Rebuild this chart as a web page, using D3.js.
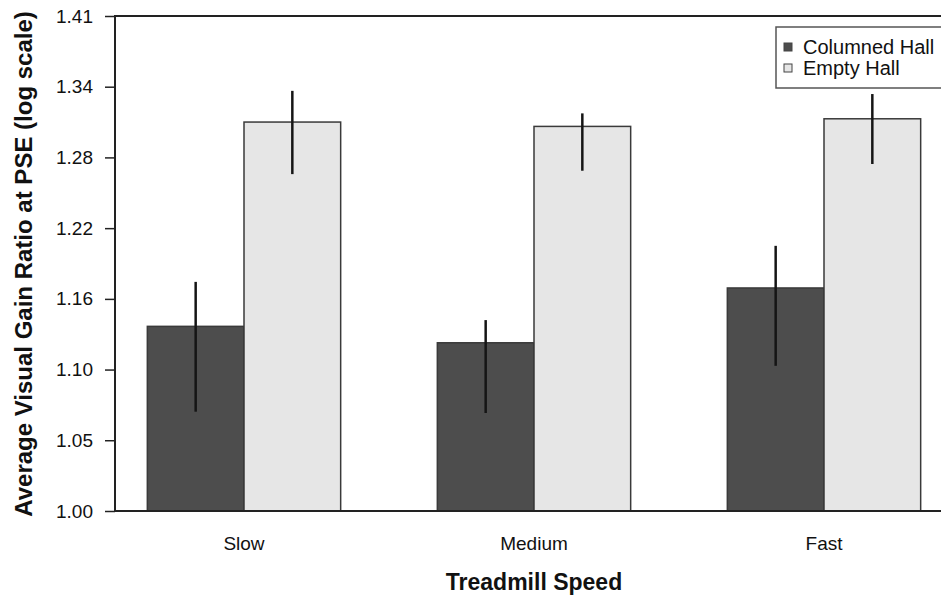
<!DOCTYPE html>
<html lang="en">
<head>
<meta charset="UTF-8">
<title>Treadmill Speed</title>
<script src="https://d3js.org/d3.v7.min.js"></script>
<style>
    body {
        margin: 0;
        background: #ffffff;
    }
    svg {
        display: block;
        font-family: 'Liberation Sans', Arial, Helvetica, sans-serif;
    }
    .tick text {
        font-size: 19px;
        fill: #111;
    }
    .axis-title {
        font-size: 23px;
        font-weight: bold;
        fill: #111;
    }
    .y-title {
        font-size: 24px;
    }
    .legend-label {
        font-size: 20px;
        fill: #111;
    }
</style>
</head>
<body>
<svg id="chart" width="941" height="598"></svg>
<script>
// data
const categories = ["Slow", "Medium", "Fast"];
const series = ["Columned Hall", "Empty Hall"];
const columnedMean = [1.138, 1.125, 1.169];
const columnedLow = [1.072, 1.071, 1.107];
const columnedHigh = [1.174, 1.143, 1.204];
const emptyMean = [1.313, 1.309, 1.316];
const emptyLow = [1.266, 1.269, 1.275];
const emptyHigh = [1.342, 1.321, 1.339];
const tickValues = [1, 1.0508, 1.1041, 1.1601, 1.2190, 1.2809, 1.3459, 1.4142];
const tickLabels = ["1.00", "1.05", "1.10", "1.16", "1.22", "1.28", "1.34", "1.41"];

const fills = ["#4d4d4d", "#e6e6e6"];

const svg = d3.select("#chart");

const plotLeft = 115, plotTop = 16, plotBottom = 511;

const y = d3.scaleLog()
    .domain([1, 1.4142])
    .range([plotBottom, plotTop]);

const x = d3.scaleBand()
    .domain(categories)
    .range([99, 969])
    .paddingInner(1 / 3)
    .paddingOuter(1 / 6);

const xs = d3.scaleBand()
    .domain(series)
    .range([0, x.bandwidth()]);

// build rows
const rows = [];
categories.forEach((c, i) => {
    rows.push({ cat: c, ser: series[0], v: columnedMean[i], lo: columnedLow[i], hi: columnedHigh[i] });
    rows.push({ cat: c, ser: series[1], v: emptyMean[i], lo: emptyLow[i], hi: emptyHigh[i] });
});

// bars
svg.append("g")
    .selectAll("rect")
    .data(rows)
    .enter()
    .append("rect")
    .attr("x", d => x(d.cat) + xs(d.ser))
    .attr("y", d => y(d.v))
    .attr("width", xs.bandwidth())
    .attr("height", d => y(1) - y(d.v))
    .attr("fill", d => fills[series.indexOf(d.ser)])
    .attr("stroke", "#3a3a3a")
    .attr("stroke-width", 1.5);

// error bars
svg.append("g")
    .selectAll("line")
    .data(rows)
    .enter()
    .append("line")
    .attr("x1", d => x(d.cat) + xs(d.ser) + xs.bandwidth() / 2)
    .attr("x2", d => x(d.cat) + xs(d.ser) + xs.bandwidth() / 2)
    .attr("y1", d => y(d.lo))
    .attr("y2", d => y(d.hi))
    .attr("stroke", "#151515")
    .attr("stroke-width", 2.5);

// plot box (right edge runs off the picture)
svg.append("rect")
    .attr("x", plotLeft)
    .attr("y", plotTop)
    .attr("width", 900)
    .attr("height", plotBottom - plotTop)
    .attr("fill", "none")
    .attr("stroke", "#222")
    .attr("stroke-width", 2);

// y axis
const yAxis = d3.axisLeft(y)
    .tickValues(tickValues)
    .tickFormat((d, i) => tickLabels[i])
    .tickSize(10)
    .tickPadding(12);

const gy = svg.append("g")
    .attr("transform", `translate(${plotLeft},0)`)
    .call(yAxis);
gy.select(".domain").remove();
gy.selectAll(".tick line").attr("stroke", "#222").attr("stroke-width", 1.5);

// x category labels
const xAxis = d3.axisBottom(x).tickSize(0).tickPadding(26);
const gx = svg.append("g")
    .attr("transform", `translate(0,${plotBottom})`)
    .call(xAxis);
gx.select(".domain").remove();

// axis titles
svg.append("text")
    .attr("class", "axis-title")
    .attr("x", x("Medium") + x.bandwidth() / 2)
    .attr("y", 590)
    .attr("text-anchor", "middle")
    .text("Treadmill Speed");

svg.append("text")
    .attr("class", "axis-title y-title")
    .attr("transform", "translate(32,264) rotate(-90)")
    .attr("text-anchor", "middle")
    .text("Average Visual Gain Ratio at PSE (log scale)");

// legend
const legend = svg.append("g");
legend.append("rect")
    .attr("x", 776)
    .attr("y", 27)
    .attr("width", 200)
    .attr("height", 61)
    .attr("fill", "#fff")
    .attr("stroke", "#555")
    .attr("stroke-width", 1.5);

series.forEach((s, i) => {
    const cy = 47 + i * 21;
    legend.append("rect")
        .attr("x", 784)
        .attr("y", cy - 4)
        .attr("width", 8)
        .attr("height", 8)
        .attr("fill", fills[i])
        .attr("stroke", "#444")
        .attr("stroke-width", 1);
    legend.append("text")
        .attr("class", "legend-label")
        .attr("x", 803)
        .attr("y", cy)
        .attr("dy", "0.36em")
        .text(s);
});
</script>
</body>
</html>
